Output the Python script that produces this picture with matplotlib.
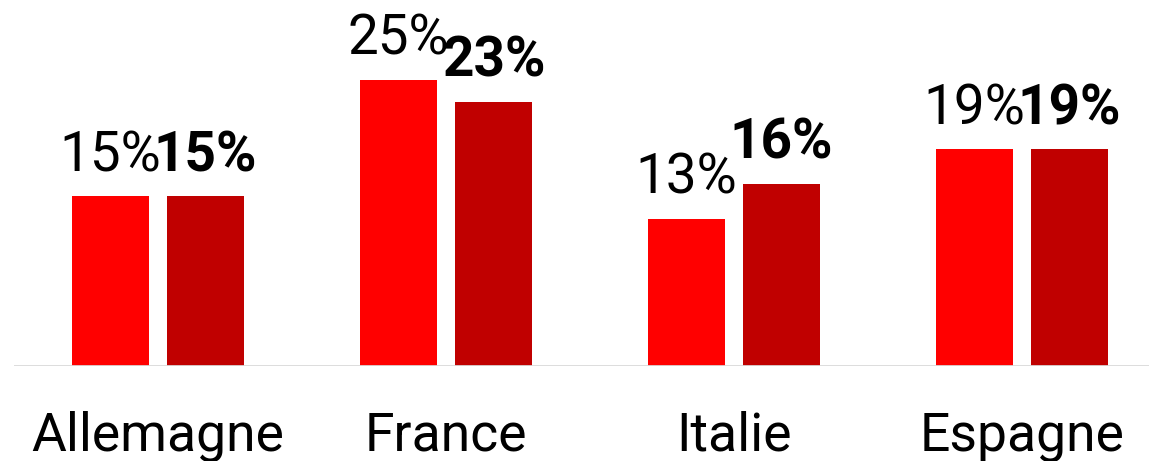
import numpy as np
import matplotlib.pyplot as plt

plt.rcParams['font.family'] = ['Roboto', 'DejaVu Sans']

# data
pays = ['Allemagne', 'France', 'Italie', 'Espagne']
serie1 = [14.9, 25.1, 12.9, 19.0]
serie2 = [14.9, 23.2, 16.0, 19.0]

W, H = 1149, 461
fig = plt.figure(figsize=(W / 100, H / 100), dpi=100)
ax = fig.add_axes([14 / W, 95 / H, 1152 / W, 342 / H])

x = np.arange(len(pays))
bw = 0.267
off = 0.165
b1 = ax.bar(x - off, serie1, bw, color='#FF0000', zorder=2)
b2 = ax.bar(x + off, serie2, bw, color='#C00000', zorder=2)

for xi, v in zip(x - off, serie1):
    ax.annotate('%d%%' % round(v), (xi, v), xytext=(0, 18), textcoords='offset points',
                ha='center', va='baseline', fontsize=39.5)
for xi, v in zip(x + off, serie2):
    ax.annotate('%d%%' % round(v), (xi, v), xytext=(0, 18), textcoords='offset points',
                ha='center', va='baseline', fontsize=39.5, fontweight='bold')

for xi, name in zip(x, pays):
    ax.annotate(name, (xi, 0), xytext=(0, -61), textcoords='offset points',
                ha='center', va='baseline', fontsize=38.5)

ax.axhline(0, color='#D9D9D9', lw=2, zorder=3)
ax.set_xlim(-0.5, 3.5)
ax.set_ylim(0, 30)
ax.axis('off')

fig.savefig('out.png', dpi=100)
